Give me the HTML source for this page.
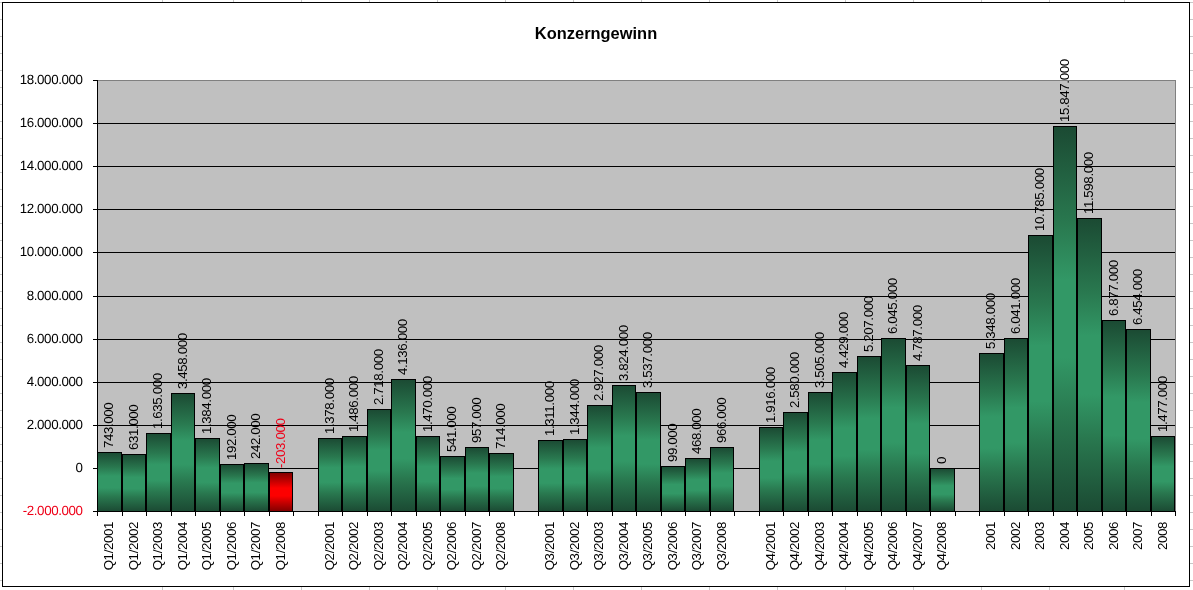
<!DOCTYPE html>
<html><head><meta charset="utf-8"><title>Konzerngewinn</title>
<style>
html,body{margin:0;padding:0;background:#fff;}
body{width:1193px;height:590px;overflow:hidden;position:relative;}
svg{position:absolute;left:0;top:0;display:block;}
text{font-family:"Liberation Sans",Arial,sans-serif;letter-spacing:-0.4px;}
.t{letter-spacing:0;}
</style></head><body>
<svg width="1193" height="590" viewBox="0 0 1193 590" shape-rendering="crispEdges">
<defs>
<linearGradient id="g" x1="0" y1="0" x2="0" y2="1">
<stop offset="0" stop-color="#1b4a33"/><stop offset="0.25" stop-color="#29784f"/><stop offset="0.40" stop-color="#329866"/><stop offset="0.60" stop-color="#329866"/><stop offset="0.75" stop-color="#29784f"/><stop offset="1" stop-color="#1b4a33"/>
</linearGradient>
<linearGradient id="r" x1="0" y1="0" x2="0" y2="1">
<stop offset="0" stop-color="#800000"/><stop offset="0.25" stop-color="#cc0000"/><stop offset="0.40" stop-color="#fd0000"/><stop offset="0.60" stop-color="#fd0000"/><stop offset="0.75" stop-color="#cc0000"/><stop offset="1" stop-color="#800000"/>
</linearGradient>
</defs>
<rect x="0" y="0" width="1193" height="590" fill="#fff"/>

<rect x="0" y="2" width="1193" height="1" fill="#c8c8c8"/>
<rect x="0" y="19" width="1193" height="1" fill="#c8c8c8"/>
<rect x="0" y="36" width="1193" height="1" fill="#c8c8c8"/>
<rect x="0" y="53" width="1193" height="1" fill="#c8c8c8"/>
<rect x="0" y="70" width="1193" height="1" fill="#c8c8c8"/>
<rect x="0" y="87" width="1193" height="1" fill="#c8c8c8"/>
<rect x="0" y="104" width="1193" height="1" fill="#c8c8c8"/>
<rect x="0" y="121" width="1193" height="1" fill="#c8c8c8"/>
<rect x="0" y="138" width="1193" height="1" fill="#c8c8c8"/>
<rect x="0" y="155" width="1193" height="1" fill="#c8c8c8"/>
<rect x="0" y="172" width="1193" height="1" fill="#c8c8c8"/>
<rect x="0" y="189" width="1193" height="1" fill="#c8c8c8"/>
<rect x="0" y="206" width="1193" height="1" fill="#c8c8c8"/>
<rect x="0" y="223" width="1193" height="1" fill="#c8c8c8"/>
<rect x="0" y="240" width="1193" height="1" fill="#c8c8c8"/>
<rect x="0" y="257" width="1193" height="1" fill="#c8c8c8"/>
<rect x="0" y="274" width="1193" height="1" fill="#c8c8c8"/>
<rect x="0" y="291" width="1193" height="1" fill="#c8c8c8"/>
<rect x="0" y="308" width="1193" height="1" fill="#c8c8c8"/>
<rect x="0" y="325" width="1193" height="1" fill="#c8c8c8"/>
<rect x="0" y="342" width="1193" height="1" fill="#c8c8c8"/>
<rect x="0" y="359" width="1193" height="1" fill="#c8c8c8"/>
<rect x="0" y="376" width="1193" height="1" fill="#c8c8c8"/>
<rect x="0" y="393" width="1193" height="1" fill="#c8c8c8"/>
<rect x="0" y="410" width="1193" height="1" fill="#c8c8c8"/>
<rect x="0" y="427" width="1193" height="1" fill="#c8c8c8"/>
<rect x="0" y="444" width="1193" height="1" fill="#c8c8c8"/>
<rect x="0" y="461" width="1193" height="1" fill="#c8c8c8"/>
<rect x="0" y="478" width="1193" height="1" fill="#c8c8c8"/>
<rect x="0" y="495" width="1193" height="1" fill="#c8c8c8"/>
<rect x="0" y="512" width="1193" height="1" fill="#c8c8c8"/>
<rect x="0" y="529" width="1193" height="1" fill="#c8c8c8"/>
<rect x="0" y="546" width="1193" height="1" fill="#c8c8c8"/>
<rect x="0" y="563" width="1193" height="1" fill="#c8c8c8"/>
<rect x="0" y="580" width="1193" height="1" fill="#c8c8c8"/>
<rect x="162" y="0" width="1" height="590" fill="#c8c8c8"/>
<rect x="233" y="0" width="1" height="590" fill="#c8c8c8"/>
<rect x="301" y="0" width="1" height="590" fill="#c8c8c8"/>
<rect x="369" y="0" width="1" height="590" fill="#c8c8c8"/>
<rect x="437" y="0" width="1" height="590" fill="#c8c8c8"/>
<rect x="505" y="0" width="1" height="590" fill="#c8c8c8"/>
<rect x="573" y="0" width="1" height="590" fill="#c8c8c8"/>
<rect x="641" y="0" width="1" height="590" fill="#c8c8c8"/>
<rect x="709" y="0" width="1" height="590" fill="#c8c8c8"/>
<rect x="777" y="0" width="1" height="590" fill="#c8c8c8"/>
<rect x="845" y="0" width="1" height="590" fill="#c8c8c8"/>
<rect x="913" y="0" width="1" height="590" fill="#c8c8c8"/>
<rect x="981" y="0" width="1" height="590" fill="#c8c8c8"/>
<rect x="1049" y="0" width="1" height="590" fill="#c8c8c8"/>
<rect x="1124" y="0" width="1" height="590" fill="#c8c8c8"/>
<rect x="2.5" y="2.5" width="1187" height="584" fill="#fff" stroke="#000" stroke-width="1"/>
<rect x="97" y="80" width="1079" height="432" fill="#c0c0c0"/>
<rect x="97" y="80" width="1079" height="1" fill="#808080"/>
<rect x="1175" y="80" width="1" height="432" fill="#808080"/>
<rect x="93" y="511" width="4" height="1" fill="#000"/>
<text x="82.5" y="515.4" font-size="13.33" text-anchor="end" fill="#ee0018" text-rendering="geometricPrecision">-2.000.000</text>
<rect x="97" y="468" width="1078" height="1" fill="#000"/>
<rect x="93" y="468" width="4" height="1" fill="#000"/>
<text x="82.5" y="472.4" font-size="13.33" text-anchor="end" fill="#000" text-rendering="geometricPrecision">0</text>
<rect x="97" y="425" width="1078" height="1" fill="#000"/>
<rect x="93" y="425" width="4" height="1" fill="#000"/>
<text x="82.5" y="429.4" font-size="13.33" text-anchor="end" fill="#000" text-rendering="geometricPrecision">2.000.000</text>
<rect x="97" y="382" width="1078" height="1" fill="#000"/>
<rect x="93" y="382" width="4" height="1" fill="#000"/>
<text x="82.5" y="386.4" font-size="13.33" text-anchor="end" fill="#000" text-rendering="geometricPrecision">4.000.000</text>
<rect x="97" y="339" width="1078" height="1" fill="#000"/>
<rect x="93" y="339" width="4" height="1" fill="#000"/>
<text x="82.5" y="343.4" font-size="13.33" text-anchor="end" fill="#000" text-rendering="geometricPrecision">6.000.000</text>
<rect x="97" y="296" width="1078" height="1" fill="#000"/>
<rect x="93" y="296" width="4" height="1" fill="#000"/>
<text x="82.5" y="300.4" font-size="13.33" text-anchor="end" fill="#000" text-rendering="geometricPrecision">8.000.000</text>
<rect x="97" y="252" width="1078" height="1" fill="#000"/>
<rect x="93" y="252" width="4" height="1" fill="#000"/>
<text x="82.5" y="256.4" font-size="13.33" text-anchor="end" fill="#000" text-rendering="geometricPrecision">10.000.000</text>
<rect x="97" y="209" width="1078" height="1" fill="#000"/>
<rect x="93" y="209" width="4" height="1" fill="#000"/>
<text x="82.5" y="213.4" font-size="13.33" text-anchor="end" fill="#000" text-rendering="geometricPrecision">12.000.000</text>
<rect x="97" y="166" width="1078" height="1" fill="#000"/>
<rect x="93" y="166" width="4" height="1" fill="#000"/>
<text x="82.5" y="170.4" font-size="13.33" text-anchor="end" fill="#000" text-rendering="geometricPrecision">14.000.000</text>
<rect x="97" y="123" width="1078" height="1" fill="#000"/>
<rect x="93" y="123" width="4" height="1" fill="#000"/>
<text x="82.5" y="127.4" font-size="13.33" text-anchor="end" fill="#000" text-rendering="geometricPrecision">16.000.000</text>
<rect x="93" y="80" width="4" height="1" fill="#000"/>
<text x="82.5" y="84.4" font-size="13.33" text-anchor="end" fill="#000" text-rendering="geometricPrecision">18.000.000</text>
<rect x="97.5" y="452.5" width="24" height="59" fill="url(#g)" stroke="#000" stroke-width="1"/>
<rect x="122.5" y="454.5" width="23" height="57" fill="url(#g)" stroke="#000" stroke-width="1"/>
<rect x="146.5" y="433.5" width="24" height="78" fill="url(#g)" stroke="#000" stroke-width="1"/>
<rect x="171.5" y="393.5" width="23" height="118" fill="url(#g)" stroke="#000" stroke-width="1"/>
<rect x="195.5" y="438.5" width="24" height="73" fill="url(#g)" stroke="#000" stroke-width="1"/>
<rect x="220.5" y="464.5" width="23" height="47" fill="url(#g)" stroke="#000" stroke-width="1"/>
<rect x="244.5" y="463.5" width="24" height="48" fill="url(#g)" stroke="#000" stroke-width="1"/>
<rect x="269.5" y="472.5" width="23" height="39" fill="url(#r)" stroke="#000" stroke-width="1"/>
<rect x="318.5" y="438.5" width="23" height="73" fill="url(#g)" stroke="#000" stroke-width="1"/>
<rect x="342.5" y="436.5" width="24" height="75" fill="url(#g)" stroke="#000" stroke-width="1"/>
<rect x="367.5" y="409.5" width="23" height="102" fill="url(#g)" stroke="#000" stroke-width="1"/>
<rect x="391.5" y="379.5" width="24" height="132" fill="url(#g)" stroke="#000" stroke-width="1"/>
<rect x="416.5" y="436.5" width="23" height="75" fill="url(#g)" stroke="#000" stroke-width="1"/>
<rect x="440.5" y="456.5" width="24" height="55" fill="url(#g)" stroke="#000" stroke-width="1"/>
<rect x="465.5" y="447.5" width="23" height="64" fill="url(#g)" stroke="#000" stroke-width="1"/>
<rect x="489.5" y="453.5" width="24" height="58" fill="url(#g)" stroke="#000" stroke-width="1"/>
<rect x="538.5" y="440.5" width="24" height="71" fill="url(#g)" stroke="#000" stroke-width="1"/>
<rect x="563.5" y="439.5" width="23" height="72" fill="url(#g)" stroke="#000" stroke-width="1"/>
<rect x="587.5" y="405.5" width="24" height="106" fill="url(#g)" stroke="#000" stroke-width="1"/>
<rect x="612.5" y="385.5" width="23" height="126" fill="url(#g)" stroke="#000" stroke-width="1"/>
<rect x="636.5" y="392.5" width="24" height="119" fill="url(#g)" stroke="#000" stroke-width="1"/>
<rect x="661.5" y="466.5" width="23" height="45" fill="url(#g)" stroke="#000" stroke-width="1"/>
<rect x="685.5" y="458.5" width="24" height="53" fill="url(#g)" stroke="#000" stroke-width="1"/>
<rect x="710.5" y="447.5" width="23" height="64" fill="url(#g)" stroke="#000" stroke-width="1"/>
<rect x="759.5" y="427.5" width="23" height="84" fill="url(#g)" stroke="#000" stroke-width="1"/>
<rect x="783.5" y="412.5" width="24" height="99" fill="url(#g)" stroke="#000" stroke-width="1"/>
<rect x="808.5" y="392.5" width="23" height="119" fill="url(#g)" stroke="#000" stroke-width="1"/>
<rect x="832.5" y="372.5" width="24" height="139" fill="url(#g)" stroke="#000" stroke-width="1"/>
<rect x="857.5" y="356.5" width="23" height="155" fill="url(#g)" stroke="#000" stroke-width="1"/>
<rect x="881.5" y="338.5" width="24" height="173" fill="url(#g)" stroke="#000" stroke-width="1"/>
<rect x="906.5" y="365.5" width="23" height="146" fill="url(#g)" stroke="#000" stroke-width="1"/>
<rect x="930.5" y="468.5" width="24" height="43" fill="url(#g)" stroke="#000" stroke-width="1"/>
<rect x="979.5" y="353.5" width="24" height="158" fill="url(#g)" stroke="#000" stroke-width="1"/>
<rect x="1004.5" y="338.5" width="23" height="173" fill="url(#g)" stroke="#000" stroke-width="1"/>
<rect x="1028.5" y="235.5" width="24" height="276" fill="url(#g)" stroke="#000" stroke-width="1"/>
<rect x="1053.5" y="126.5" width="23" height="385" fill="url(#g)" stroke="#000" stroke-width="1"/>
<rect x="1077.5" y="218.5" width="24" height="293" fill="url(#g)" stroke="#000" stroke-width="1"/>
<rect x="1102.5" y="320.5" width="23" height="191" fill="url(#g)" stroke="#000" stroke-width="1"/>
<rect x="1126.5" y="329.5" width="24" height="182" fill="url(#g)" stroke="#000" stroke-width="1"/>
<rect x="1151.5" y="436.5" width="23" height="75" fill="url(#g)" stroke="#000" stroke-width="1"/>
<rect x="97" y="80" width="1" height="432" fill="#000"/>
<rect x="97" y="511" width="1079" height="1" fill="#000"/>
<rect x="97" y="511" width="1" height="5" fill="#000"/>
<rect x="122" y="511" width="1" height="5" fill="#000"/>
<rect x="146" y="511" width="1" height="5" fill="#000"/>
<rect x="171" y="511" width="1" height="5" fill="#000"/>
<rect x="195" y="511" width="1" height="5" fill="#000"/>
<rect x="220" y="511" width="1" height="5" fill="#000"/>
<rect x="244" y="511" width="1" height="5" fill="#000"/>
<rect x="269" y="511" width="1" height="5" fill="#000"/>
<rect x="293" y="511" width="1" height="5" fill="#000"/>
<rect x="318" y="511" width="1" height="5" fill="#000"/>
<rect x="342" y="511" width="1" height="5" fill="#000"/>
<rect x="367" y="511" width="1" height="5" fill="#000"/>
<rect x="391" y="511" width="1" height="5" fill="#000"/>
<rect x="416" y="511" width="1" height="5" fill="#000"/>
<rect x="440" y="511" width="1" height="5" fill="#000"/>
<rect x="465" y="511" width="1" height="5" fill="#000"/>
<rect x="489" y="511" width="1" height="5" fill="#000"/>
<rect x="514" y="511" width="1" height="5" fill="#000"/>
<rect x="538" y="511" width="1" height="5" fill="#000"/>
<rect x="563" y="511" width="1" height="5" fill="#000"/>
<rect x="587" y="511" width="1" height="5" fill="#000"/>
<rect x="612" y="511" width="1" height="5" fill="#000"/>
<rect x="636" y="511" width="1" height="5" fill="#000"/>
<rect x="661" y="511" width="1" height="5" fill="#000"/>
<rect x="685" y="511" width="1" height="5" fill="#000"/>
<rect x="710" y="511" width="1" height="5" fill="#000"/>
<rect x="734" y="511" width="1" height="5" fill="#000"/>
<rect x="759" y="511" width="1" height="5" fill="#000"/>
<rect x="783" y="511" width="1" height="5" fill="#000"/>
<rect x="808" y="511" width="1" height="5" fill="#000"/>
<rect x="832" y="511" width="1" height="5" fill="#000"/>
<rect x="857" y="511" width="1" height="5" fill="#000"/>
<rect x="881" y="511" width="1" height="5" fill="#000"/>
<rect x="906" y="511" width="1" height="5" fill="#000"/>
<rect x="930" y="511" width="1" height="5" fill="#000"/>
<rect x="955" y="511" width="1" height="5" fill="#000"/>
<rect x="979" y="511" width="1" height="5" fill="#000"/>
<rect x="1004" y="511" width="1" height="5" fill="#000"/>
<rect x="1028" y="511" width="1" height="5" fill="#000"/>
<rect x="1053" y="511" width="1" height="5" fill="#000"/>
<rect x="1077" y="511" width="1" height="5" fill="#000"/>
<rect x="1102" y="511" width="1" height="5" fill="#000"/>
<rect x="1126" y="511" width="1" height="5" fill="#000"/>
<rect x="1151" y="511" width="1" height="5" fill="#000"/>
<rect x="1175" y="511" width="1" height="5" fill="#000"/>
<text transform="translate(113.0,448) rotate(-90)" font-size="13.33" fill="#000">743.000</text>
<text transform="translate(113.0,522) rotate(-90)" font-size="13.33" text-anchor="end" fill="#000">Q1/2001</text>
<text transform="translate(137.6,450) rotate(-90)" font-size="13.33" fill="#000">631.000</text>
<text transform="translate(137.6,522) rotate(-90)" font-size="13.33" text-anchor="end" fill="#000">Q1/2002</text>
<text transform="translate(162.1,429) rotate(-90)" font-size="13.33" fill="#000">1.635.000</text>
<text transform="translate(162.1,522) rotate(-90)" font-size="13.33" text-anchor="end" fill="#000">Q1/2003</text>
<text transform="translate(186.6,389) rotate(-90)" font-size="13.33" fill="#000">3.458.000</text>
<text transform="translate(186.6,522) rotate(-90)" font-size="13.33" text-anchor="end" fill="#000">Q1/2004</text>
<text transform="translate(211.1,434) rotate(-90)" font-size="13.33" fill="#000">1.384.000</text>
<text transform="translate(211.1,522) rotate(-90)" font-size="13.33" text-anchor="end" fill="#000">Q1/2005</text>
<text transform="translate(235.6,460) rotate(-90)" font-size="13.33" fill="#000">192.000</text>
<text transform="translate(235.6,522) rotate(-90)" font-size="13.33" text-anchor="end" fill="#000">Q1/2006</text>
<text transform="translate(260.1,459) rotate(-90)" font-size="13.33" fill="#000">242.000</text>
<text transform="translate(260.1,522) rotate(-90)" font-size="13.33" text-anchor="end" fill="#000">Q1/2007</text>
<text transform="translate(284.6,468) rotate(-90)" font-size="13.33" fill="#ee0018">-203.000</text>
<text transform="translate(284.6,522) rotate(-90)" font-size="13.33" text-anchor="end" fill="#000">Q1/2008</text>
<text transform="translate(333.6,434) rotate(-90)" font-size="13.33" fill="#000">1.378.000</text>
<text transform="translate(333.6,522) rotate(-90)" font-size="13.33" text-anchor="end" fill="#000">Q2/2001</text>
<text transform="translate(358.1,432) rotate(-90)" font-size="13.33" fill="#000">1.486.000</text>
<text transform="translate(358.1,522) rotate(-90)" font-size="13.33" text-anchor="end" fill="#000">Q2/2002</text>
<text transform="translate(382.6,405) rotate(-90)" font-size="13.33" fill="#000">2.718.000</text>
<text transform="translate(382.6,522) rotate(-90)" font-size="13.33" text-anchor="end" fill="#000">Q2/2003</text>
<text transform="translate(407.1,375) rotate(-90)" font-size="13.33" fill="#000">4.136.000</text>
<text transform="translate(407.1,522) rotate(-90)" font-size="13.33" text-anchor="end" fill="#000">Q2/2004</text>
<text transform="translate(431.6,432) rotate(-90)" font-size="13.33" fill="#000">1.470.000</text>
<text transform="translate(431.6,522) rotate(-90)" font-size="13.33" text-anchor="end" fill="#000">Q2/2005</text>
<text transform="translate(456.1,452) rotate(-90)" font-size="13.33" fill="#000">541.000</text>
<text transform="translate(456.1,522) rotate(-90)" font-size="13.33" text-anchor="end" fill="#000">Q2/2006</text>
<text transform="translate(480.6,443) rotate(-90)" font-size="13.33" fill="#000">957.000</text>
<text transform="translate(480.6,522) rotate(-90)" font-size="13.33" text-anchor="end" fill="#000">Q2/2007</text>
<text transform="translate(505.1,449) rotate(-90)" font-size="13.33" fill="#000">714.000</text>
<text transform="translate(505.1,522) rotate(-90)" font-size="13.33" text-anchor="end" fill="#000">Q2/2008</text>
<text transform="translate(554.0,436) rotate(-90)" font-size="13.33" fill="#000">1.311.000</text>
<text transform="translate(554.0,522) rotate(-90)" font-size="13.33" text-anchor="end" fill="#000">Q3/2001</text>
<text transform="translate(578.5,435) rotate(-90)" font-size="13.33" fill="#000">1.344.000</text>
<text transform="translate(578.5,522) rotate(-90)" font-size="13.33" text-anchor="end" fill="#000">Q3/2002</text>
<text transform="translate(603.0,401) rotate(-90)" font-size="13.33" fill="#000">2.927.000</text>
<text transform="translate(603.0,522) rotate(-90)" font-size="13.33" text-anchor="end" fill="#000">Q3/2003</text>
<text transform="translate(627.5,381) rotate(-90)" font-size="13.33" fill="#000">3.824.000</text>
<text transform="translate(627.5,522) rotate(-90)" font-size="13.33" text-anchor="end" fill="#000">Q3/2004</text>
<text transform="translate(652.0,388) rotate(-90)" font-size="13.33" fill="#000">3.537.000</text>
<text transform="translate(652.0,522) rotate(-90)" font-size="13.33" text-anchor="end" fill="#000">Q3/2005</text>
<text transform="translate(676.5,462) rotate(-90)" font-size="13.33" fill="#000">99.000</text>
<text transform="translate(676.5,522) rotate(-90)" font-size="13.33" text-anchor="end" fill="#000">Q3/2006</text>
<text transform="translate(701.0,454) rotate(-90)" font-size="13.33" fill="#000">468.000</text>
<text transform="translate(701.0,522) rotate(-90)" font-size="13.33" text-anchor="end" fill="#000">Q3/2007</text>
<text transform="translate(725.5,443) rotate(-90)" font-size="13.33" fill="#000">966.000</text>
<text transform="translate(725.5,522) rotate(-90)" font-size="13.33" text-anchor="end" fill="#000">Q3/2008</text>
<text transform="translate(774.5,423) rotate(-90)" font-size="13.33" fill="#000">1.916.000</text>
<text transform="translate(774.5,522) rotate(-90)" font-size="13.33" text-anchor="end" fill="#000">Q4/2001</text>
<text transform="translate(799.0,408) rotate(-90)" font-size="13.33" fill="#000">2.580.000</text>
<text transform="translate(799.0,522) rotate(-90)" font-size="13.33" text-anchor="end" fill="#000">Q4/2002</text>
<text transform="translate(823.5,388) rotate(-90)" font-size="13.33" fill="#000">3.505.000</text>
<text transform="translate(823.5,522) rotate(-90)" font-size="13.33" text-anchor="end" fill="#000">Q4/2003</text>
<text transform="translate(848.0,368) rotate(-90)" font-size="13.33" fill="#000">4.429.000</text>
<text transform="translate(848.0,522) rotate(-90)" font-size="13.33" text-anchor="end" fill="#000">Q4/2004</text>
<text transform="translate(872.5,352) rotate(-90)" font-size="13.33" fill="#000">5.207.000</text>
<text transform="translate(872.5,522) rotate(-90)" font-size="13.33" text-anchor="end" fill="#000">Q4/2005</text>
<text transform="translate(897.0,334) rotate(-90)" font-size="13.33" fill="#000">6.045.000</text>
<text transform="translate(897.0,522) rotate(-90)" font-size="13.33" text-anchor="end" fill="#000">Q4/2006</text>
<text transform="translate(921.5,361) rotate(-90)" font-size="13.33" fill="#000">4.787.000</text>
<text transform="translate(921.5,522) rotate(-90)" font-size="13.33" text-anchor="end" fill="#000">Q4/2007</text>
<text transform="translate(946.0,464) rotate(-90)" font-size="13.33" fill="#000">0</text>
<text transform="translate(946.0,522) rotate(-90)" font-size="13.33" text-anchor="end" fill="#000">Q4/2008</text>
<text transform="translate(995.0,349) rotate(-90)" font-size="13.33" fill="#000">5.348.000</text>
<text transform="translate(995.0,522) rotate(-90)" font-size="13.33" text-anchor="end" fill="#000">2001</text>
<text transform="translate(1019.5,334) rotate(-90)" font-size="13.33" fill="#000">6.041.000</text>
<text transform="translate(1019.5,522) rotate(-90)" font-size="13.33" text-anchor="end" fill="#000">2002</text>
<text transform="translate(1044.0,231) rotate(-90)" font-size="13.33" fill="#000">10.785.000</text>
<text transform="translate(1044.0,522) rotate(-90)" font-size="13.33" text-anchor="end" fill="#000">2003</text>
<text transform="translate(1068.5,122) rotate(-90)" font-size="13.33" fill="#000">15.847.000</text>
<text transform="translate(1068.5,522) rotate(-90)" font-size="13.33" text-anchor="end" fill="#000">2004</text>
<text transform="translate(1093.0,214) rotate(-90)" font-size="13.33" fill="#000">11.598.000</text>
<text transform="translate(1093.0,522) rotate(-90)" font-size="13.33" text-anchor="end" fill="#000">2005</text>
<text transform="translate(1117.5,316) rotate(-90)" font-size="13.33" fill="#000">6.877.000</text>
<text transform="translate(1117.5,522) rotate(-90)" font-size="13.33" text-anchor="end" fill="#000">2006</text>
<text transform="translate(1142.0,325) rotate(-90)" font-size="13.33" fill="#000">6.454.000</text>
<text transform="translate(1142.0,522) rotate(-90)" font-size="13.33" text-anchor="end" fill="#000">2007</text>
<text transform="translate(1166.5,432) rotate(-90)" font-size="13.33" fill="#000">1.477.000</text>
<text transform="translate(1166.5,522) rotate(-90)" font-size="13.33" text-anchor="end" fill="#000">2008</text>
<text class="t" x="596" y="38.8" font-size="16.45" font-weight="bold" text-anchor="middle" fill="#000">Konzerngewinn</text>
</svg></body></html>
